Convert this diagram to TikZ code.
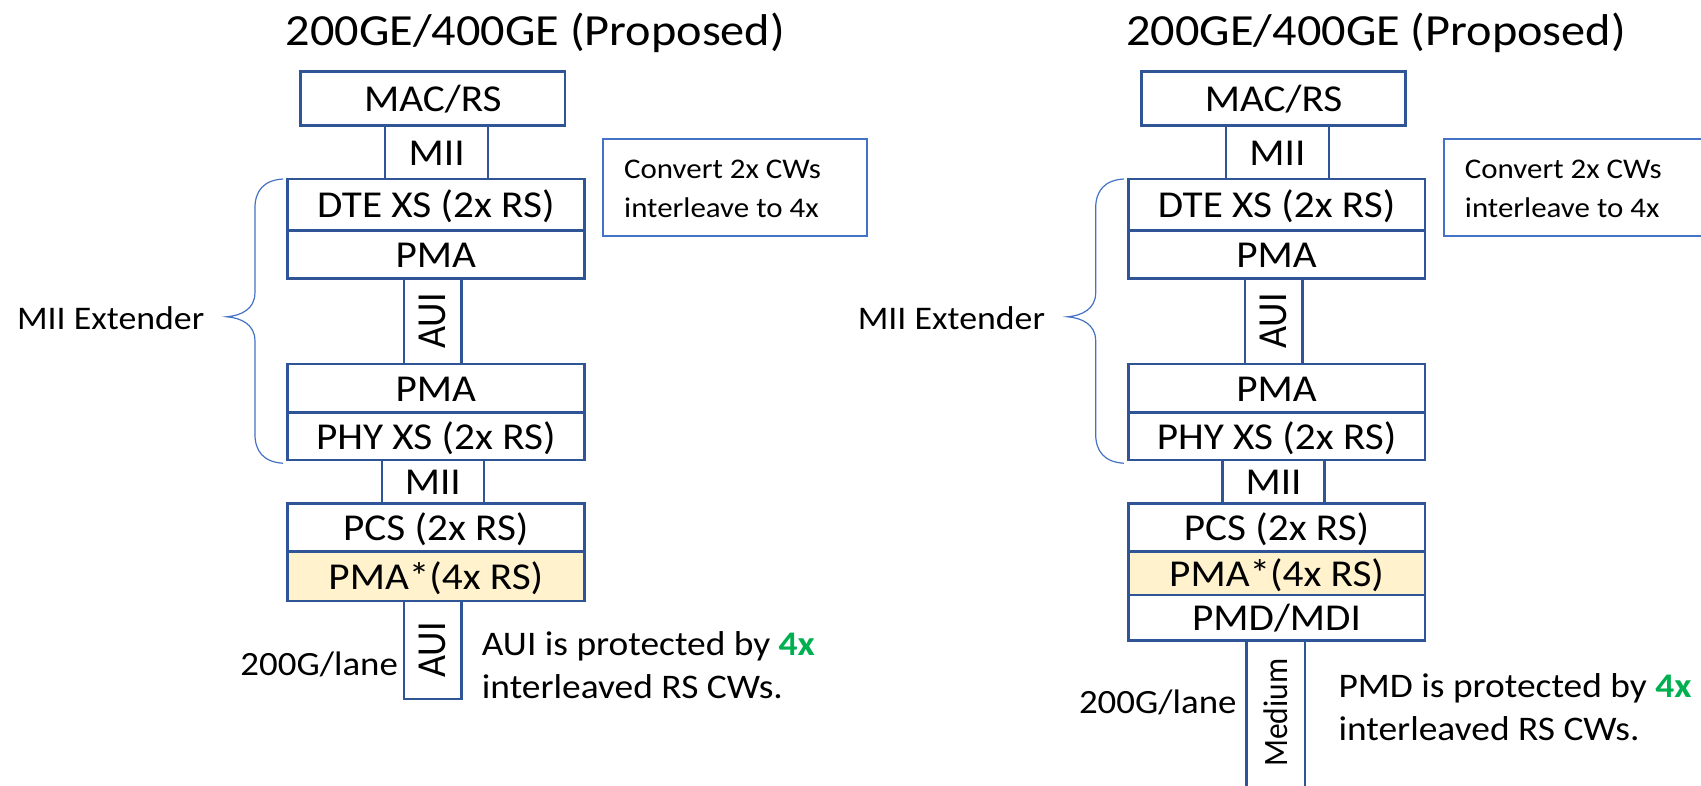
\documentclass[tikz,border=0pt]{standalone}
\usepackage{fontspec}
\setmainfont{Carlito}
\definecolor{dkblue}{HTML}{2F5597}
\definecolor{ltblue}{HTML}{4472C4}
\definecolor{pmafill}{HTML}{FFF2CC}
\definecolor{grn}{HTML}{00B050}
\tikzset{
  wh/.style 2 args={minimum width=#1*1pt, minimum height=#2*1.0848pt},
  vwh/.style 2 args={minimum width=#1*1.0848pt, minimum height=#2*1pt},
  layer/.style={draw=dkblue, line width=2.8pt, fill=white, inner sep=0pt,
    text height=29pt, text depth=3pt, font=\fontsize{38}{44}\selectfont},
  link/.style={draw=dkblue, line width=2.4pt, fill=white, inner sep=0pt,
    text height=29pt, text depth=3pt, font=\fontsize{38}{44}\selectfont},
  vlink/.style={draw=dkblue, line width=2.4pt, fill=white, inner sep=0pt, rotate=90,
    font=\fontsize{38}{44}\selectfont},
  titletext/.style={inner sep=0pt, anchor=base, font=\fontsize{44.5}{52}\selectfont},
  notebox/.style={draw=ltblue, line width=1.8pt, fill=white, inner sep=0pt},
  notetext/.style={inner sep=0pt, anchor=base west, font=\fontsize{28.5}{35}\selectfont},
  sidetext/.style={inner sep=0pt, anchor=base west, font=\fontsize{34.5}{43}\selectfont},
  lanetext/.style={inner sep=0pt, anchor=base east, font=\fontsize{34}{42}\selectfont},
  exttext/.style={inner sep=0pt, anchor=base east, font=\fontsize{33}{40}\selectfont},
  bracepath/.style={draw=ltblue, line width=1.2pt},
}
\newcommand\upperstack[1]{%
  \node[titletext] (#1title) at (493.5,41.5) {200GE/400GE (Proposed)};
  \node[link, wh={95}{49}] (#1miia) at (402.5,140.5) {MII};
  \node[vlink, vwh={79}{53}] (#1auia) at (399,296) {AUI};
  \node[link, wh={94}{40}] (#1miib) at (399,444) {MII};
  \node[layer, wh={243.6}{50}] (#1mac) at (399,91) {MAC/RS};
  \node[layer, wh={273.5}{47.5}] (#1dte) at (401.75,188.75) {DTE XS (2x RS)};
  \node[layer, wh={273.5}{44}] (#1pmaa) at (401.75,234.5) {PMA};
  \node[layer, wh={273.5}{45}] (#1pmab) at (401.75,358) {PMA};
  \node[layer, wh={273.5}{43.5}] (#1phy) at (401.75,402.25) {PHY XS (2x RS)};
  \node[layer, wh={273.5}{44.5}] (#1pcs) at (401.75,486.25) {PCS (2x RS)};
  \node[notebox, wh={243}{89.2}] (#1conv) at (677.5,173) {};
  \node[notetext] (#1convta) at (575.2,164.4) {Convert 2x CWs};
  \node[notetext] (#1convtb) at (575.2,200.3) {interleave to 4x};
  \node[exttext] (#1ext) at (188.5,303.5) {MII Extender};
  \path[bracepath] (261,165) .. controls (243,166) and (235,176) .. (235,192)
    -- (235,270) .. controls (235,285) and (222,291) .. (209,292)
    .. controls (222,293) and (235,299) .. (235,314)
    -- (235,400) .. controls (235,416) and (243,426) .. (261,427);
}
\begin{document}
\begin{tikzpicture}[x=1pt,y=-1.0848pt]
\begin{scope}[xscale=1.0848, transform shape]
\useasboundingbox (0,0) rectangle (1568,724);
% left
\upperstack{L}
\node[vlink, vwh={90.5}{53}] (Lauib) at (399,599.25) {AUI};
\node[layer, wh={273.5}{45.5}, fill=pmafill] (Lpmas) at (401.75,531.25) {PMA*(4x RS)};
\node[lanetext] (Llane) at (367,623) {200G/lane};
\node[sidetext] (Lnotea) at (444,603.8) {AUI is protected by \textcolor{grn}{\textbf{4x}}};
\node[sidetext] (Lnoteb) at (444,643.7) {interleaved RS CWs.};
% right
\begin{scope}[shift={(775,0)}]
\upperstack{R}
\node[vlink, vwh={179.4}{54}] (Rmed) at (401,680.3) {};
\node[inner sep=0pt, rotate=90, font=\fontsize{31.5}{38}\selectfont] (Rmedt) at (401,657) {Medium};
\node[layer, wh={273.5}{40}, fill=pmafill] (Rpmas) at (401.75,528.5) {PMA*(4x RS)};
\node[layer, wh={273.5}{42.1}] (Rpmd) at (401.75,569.55) {PMD/MDI};
\node[lanetext] (Rlane) at (365,657.6) {200G/lane};
\node[sidetext] (Rnotea) at (458.7,642.5) {PMD is protected by \textcolor{grn}{\textbf{4x}}};
\node[sidetext] (Rnoteb) at (458.7,682.5) {interleaved RS CWs.};
\end{scope}
\end{scope}
\end{tikzpicture}
\end{document}
